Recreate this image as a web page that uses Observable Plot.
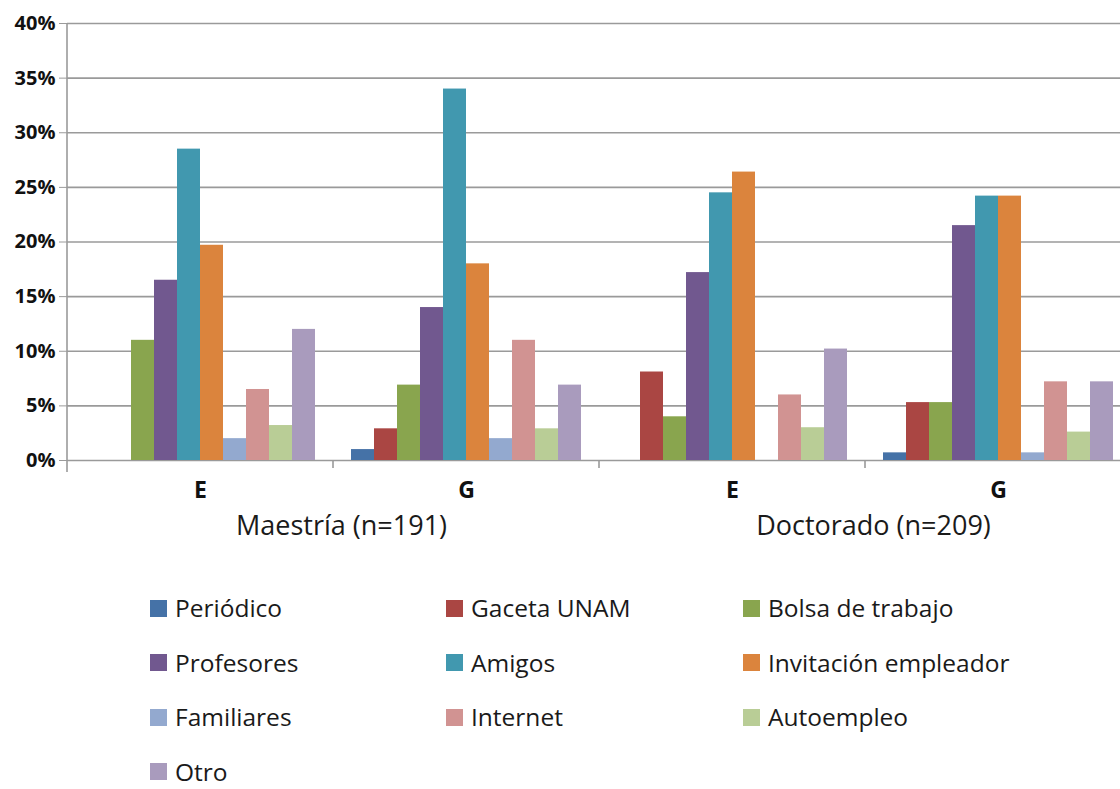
<!DOCTYPE html>
<html>
<head>
<meta charset="utf-8">
<script src="https://cdn.jsdelivr.net/npm/d3@7"></script>
<script src="https://cdn.jsdelivr.net/npm/@observablehq/plot@0.6"></script>
<style>
  html, body { margin: 0; padding: 0; background: #fff; overflow: hidden; width: 1120px; height: 789px; }
  body { position: relative; font-family: "Open Sans", sans-serif; }
  #chart { position: absolute; left: 0; top: 0; width: 1120px; height: 560px; overflow: hidden; }
  #chart svg { max-width: none !important; }
  #legend { position: absolute; left: 150px; top: 597px; display: grid;
    grid-template-columns: 296px 297px 300px; grid-auto-rows: 22px; row-gap: 32.5px; }
  .item { display: flex; align-items: center; font-size: 24.5px; line-height: 22px; height: 22px; color: #1a1a1a; white-space: nowrap; }
  .sw { width: 17px; height: 17px; margin-right: 8px; flex: none; }
</style>
</head>
<body>
<div id="chart"></div>
<div id="legend"></div>
<script>
// ---- data ----
const series = ["Periódico", "Gaceta UNAM", "Bolsa de trabajo", "Profesores", "Amigos",
  "Invitación empleador", "Familiares", "Internet", "Autoempleo", "Otro"];
const colors = ["#4572A7", "#AA4643", "#89A54E", "#71588F", "#4198AF",
  "#DB843D", "#93A9CF", "#D19392", "#B9CD96", "#A99BBD"];
const programs = ["Maestría (n=191)", "Doctorado (n=209)"];
const types = ["E", "G"];
const maestriaE = [0, 0, 11.0, 16.5, 28.5, 19.7, 2.0, 6.5, 3.2, 12.0];
const maestriaG = [1.0, 2.9, 6.9, 14.0, 34.0, 18.0, 2.0, 11.0, 2.9, 6.9];
const doctoradoE = [0, 8.1, 4.0, 17.2, 24.5, 26.4, 0, 6.0, 3.0, 10.2];
const doctoradoG = [0.7, 5.3, 5.3, 21.5, 24.2, 24.2, 0.7, 7.2, 2.6, 7.2];
const yTicks = [0, 5, 10, 15, 20, 25, 30, 35, 40];

// ---- build table ----
const valueArrays = [maestriaE, maestriaG, doctoradoE, doctoradoG];
const facets = programs.flatMap(p => types.map(t => ({key: p + "|" + t, program: p, type: t})));
const facetKeys = facets.map(f => f.key);
const data = facets.flatMap((f, i) => series.map((s, j) => ({facet: f.key, series: s, value: valueArrays[i][j]})))
  .filter(d => d.value > 0);

const font = "Open Sans";
const chart = Plot.plot({
  width: 1132,
  height: 560,
  marginLeft: 65,
  marginRight: 0,
  marginTop: 23,
  marginBottom: 100,
  style: {fontFamily: font, background: "white", overflow: "visible", maxWidth: "none"},
  fx: {domain: facetKeys, padding: 0, axis: null},
  x: {domain: series, paddingInner: 0, paddingOuter: 0.77, axis: null},
  y: {domain: [0, 40], axis: null},
  color: {domain: series, range: colors},
  marks: [
    Plot.ruleY(yTicks, {stroke: "#9a9a9a", strokeWidth: 1.6}),
    Plot.barY(data, {fx: "facet", x: "series", y: "value", fill: "series"}),
    Plot.axisY({ticks: yTicks, tickFormat: d => d + "%", tickSize: 8, tickPadding: 4, label: null,
      stroke: "#9a9a9a", fill: "#111", fontSize: 20, fontWeight: "bold", fontFamily: font}),
    Plot.text(facets, {fx: "key", text: "type", frameAnchor: "bottom", dy: 37,
      fontSize: 23, fontWeight: "bold", fill: "#111", fontFamily: font}),
    Plot.text(facets.filter(f => f.type === "G"), {fx: "key", text: "program", frameAnchor: "bottom-left",
      textAnchor: "middle", dx: 8, dy: 74, fontSize: 27, fill: "#1a1a1a", fontFamily: font})
  ]
});

// axis line and category separators, positioned with the plot's own scales
const fx = chart.scale("fx");
const ys = chart.scale("y");
const y0 = ys.apply(0), yTop = ys.apply(40);
const svg = d3.select(chart);
const g = svg.append("g").attr("stroke", "#9a9a9a").attr("stroke-width", 1.6);
g.append("line").attr("x1", fx.apply(facetKeys[0])).attr("x2", fx.apply(facetKeys[0]))
  .attr("y1", yTop).attr("y2", y0 + 12);
facetKeys.slice(1).forEach(k => {
  g.append("line").attr("x1", fx.apply(k)).attr("x2", fx.apply(k)).attr("y1", y0).attr("y2", y0 + 8);
});
const last = facetKeys[facetKeys.length - 1];
g.append("line").attr("x1", fx.apply(last) + fx.bandwidth).attr("x2", fx.apply(last) + fx.bandwidth)
  .attr("y1", y0).attr("y2", y0 + 8);

document.getElementById("chart").appendChild(chart);

// legend
const legend = d3.select("#legend");
series.forEach((s, i) => {
  const item = legend.append("div").attr("class", "item");
  item.append("span").attr("class", "sw").style("background", colors[i]);
  item.append("span").text(s);
});
</script>
</body>
</html>
